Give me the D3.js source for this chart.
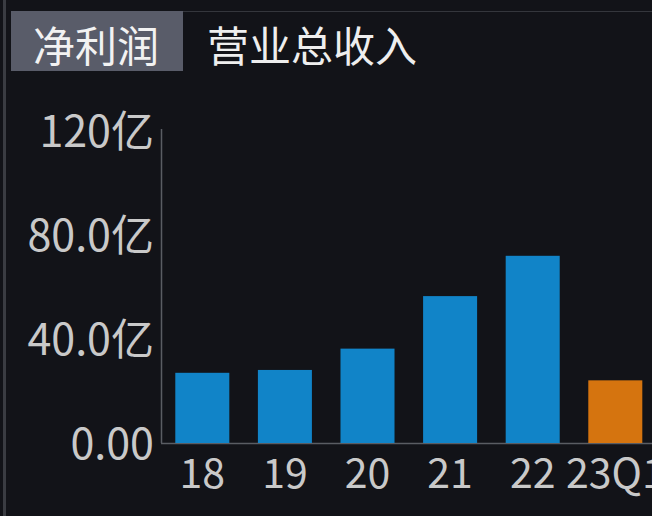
<!DOCTYPE html>
<html>
<head>
<meta charset="utf-8">
<script src="https://cdn.jsdelivr.net/npm/d3@7"></script>
<style>
  html, body { margin: 0; padding: 0; background: #121318; }
  svg { display: block; }
</style>
</head>
<body>
<svg></svg>
<script>
// Chart data
const categories = ['18', '19', '20', '21', '22', '23Q1'];
const values = [27.0, 28.1, 36.3, 56.5, 72.0, 24.1];   // 净利润, 亿
const barColors = ['#1184c8', '#1184c8', '#1184c8', '#1184c8', '#1184c8', '#d5740f'];
const yTicks = [0, 40, 80, 120];
const yTickLabels = ['0.00', '40.0亿', '80.0亿', '120亿'];
const tabs = ['净利润', '营业总收入'];

const width = 652, height = 516;
const svg = d3.select('svg')
    .attr('width', width)
    .attr('height', height);

const font = '"Noto Sans CJK SC", "Noto Sans", sans-serif';

svg.append('rect')
    .attr('width', width).attr('height', height)
    .attr('fill', '#121318');

// Frame lines: left edge and top rule
svg.append('line')
    .attr('x1', 4.5).attr('x2', 4.5).attr('y1', 0).attr('y2', height)
    .attr('stroke', '#3a3c42').attr('stroke-width', 3);
svg.append('line')
    .attr('x1', 183).attr('x2', width).attr('y1', 11.5).attr('y2', 11.5)
    .attr('stroke', '#34363c').attr('stroke-width', 1);

// Tabs
svg.append('rect')
    .attr('x', 11).attr('y', 11).attr('width', 172).attr('height', 60)
    .attr('fill', '#595c69');
svg.append('text')
    .attr('x', 96).attr('y', 43)
    .attr('text-anchor', 'middle')
    .attr('dominant-baseline', 'central')
    .style('font-family', font).style('font-size', '42px')
    .attr('fill', '#f2f2f2')
    .text(tabs[0]);
svg.append('text')
    .attr('x', 312).attr('y', 43)
    .attr('text-anchor', 'middle')
    .attr('dominant-baseline', 'central')
    .style('font-family', font).style('font-size', '42px')
    .attr('fill', '#eeeeee')
    .text(tabs[1]);

// Scales
const x = d3.scaleBand()
    .domain(categories)
    .range([161, 161 + 82.6 * categories.length])
    .paddingInner(0.346)
    .paddingOuter(0.173);

const y = d3.scaleLinear()
    .domain([0, 120])
    .range([443, 131]);

// Axis lines
svg.append('line')
    .attr('x1', 161.5).attr('x2', 161.5).attr('y1', 129).attr('y2', 443)
    .attr('stroke', '#5a5d63').attr('stroke-width', 1.5);
svg.append('line')
    .attr('x1', 161).attr('x2', width).attr('y1', 443.5).attr('y2', 443.5)
    .attr('stroke', '#5a5d63').attr('stroke-width', 1.5);

// Y axis labels
const yAxis = svg.append('g')
    .attr('transform', 'translate(161,0)')
    .call(d3.axisLeft(y)
        .tickValues(yTicks)
        .tickFormat((d, i) => yTickLabels[i])
        .tickSize(0)
        .tickPadding(7));
yAxis.select('.domain').remove();
yAxis.selectAll('text')
    .style('font-family', font).style('font-size', '43px')
    .attr('fill', '#c9c9c9')
    .attr('dy', '0.35em');

// Bars
svg.append('g').selectAll('rect')
    .data(values)
    .enter().append('rect')
    .attr('x', (d, i) => x(categories[i]))
    .attr('y', d => y(d))
    .attr('width', x.bandwidth())
    .attr('height', d => y(0) - y(d))
    .attr('fill', (d, i) => barColors[i]);

// X axis labels
const xAxis = svg.append('g')
    .attr('transform', 'translate(0,443)')
    .call(d3.axisBottom(x).tickSize(0).tickPadding(16));
xAxis.select('.domain').remove();
xAxis.selectAll('text')
    .style('font-family', font).style('font-size', '41px')
    .attr('fill', '#c9c9c9');
</script>
</body>
</html>
